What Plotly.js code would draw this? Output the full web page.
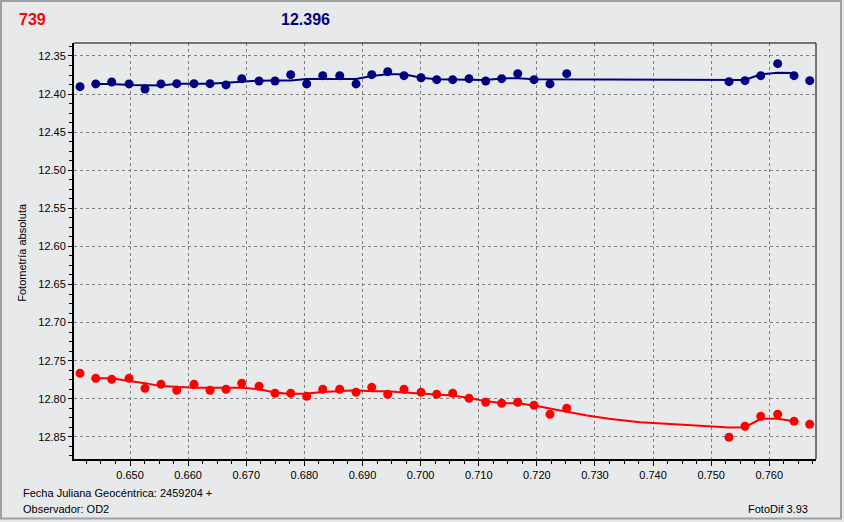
<!DOCTYPE html>
<html>
<head>
<meta charset="utf-8">
<script src="https://cdn.plot.ly/plotly-3.0.1.min.js"></script>
<style>html,body{margin:0;padding:0;background:#e8e9eb;}#chart{width:844px;height:522px;}</style>
</head>
<body>
<div id="chart"></div>
<script>
// Fecha Juliana Geocéntrica (2459204 +)
const jd = [0.6414,0.6441,0.64685,0.64983,0.65258,0.65533,0.65804,0.66101,0.66376,0.66652,0.66922,0.6722,0.67495,0.67765,0.6804,0.68316,0.68608,0.68889,0.69159,0.69434,0.69714,0.70007,0.70277,0.70552,0.70833,0.7112,0.71395,0.71671,0.71951,0.72226,0.72514,0.75306,0.75581,0.75852,0.76144,0.76425,0.76695];
// comparison star (blue) magnitudes
const blueMag = [12.3903,12.3867,12.3841,12.3867,12.3933,12.3867,12.3863,12.3863,12.3863,12.3880,12.3798,12.3828,12.3828,12.3745,12.3867,12.3758,12.3758,12.3867,12.3745,12.3706,12.3758,12.3785,12.3811,12.3811,12.3798,12.3828,12.3798,12.3732,12.3811,12.3867,12.3732,12.3837,12.3824,12.3758,12.3601,12.3758,12.3824];
// target (red) magnitudes
const redMag = [12.7666,12.7732,12.7745,12.7732,12.7863,12.7810,12.7889,12.7810,12.7889,12.7876,12.7797,12.7836,12.7928,12.7928,12.7968,12.7876,12.7876,12.7915,12.7850,12.7941,12.7876,12.7915,12.7941,12.7928,12.7994,12.8046,12.8060,12.8046,12.8086,12.8204,12.8125,12.8505,12.8361,12.8230,12.8204,12.8295,12.8335];
// smoothed trend lines
const blueTrendJd = [0.6441,0.64685,0.64983,0.65258,0.65533,0.65804,0.66101,0.66376,0.66652,0.66922,0.6722,0.67495,0.67765,0.6804,0.68316,0.68608,0.68889,0.69159,0.69434,0.69714,0.70007,0.70277,0.70552,0.70833,0.7112,0.71395,0.71671,0.71951,0.72226,0.72514,0.75306,0.75581,0.75852,0.76144,0.76425];
const blueTrend = [12.3867,12.3867,12.3880,12.3887,12.3889,12.3863,12.3863,12.3863,12.3850,12.3834,12.3824,12.3821,12.3821,12.3802,12.3802,12.3802,12.3802,12.3762,12.3740,12.3740,12.3785,12.3806,12.3806,12.3806,12.3815,12.3795,12.3792,12.3806,12.3806,12.3811,12.3815,12.3815,12.3740,12.3719,12.3723];
const redTrendJd = [0.6441,0.64685,0.64983,0.65258,0.65533,0.65804,0.66101,0.66376,0.66652,0.66922,0.6722,0.67495,0.67765,0.6804,0.68316,0.68608,0.68889,0.69159,0.69434,0.69714,0.70007,0.70277,0.70552,0.70833,0.7112,0.71395,0.71671,0.71951,0.72226,0.72514,0.72863,0.73241,0.73775,0.74446,0.75065,0.75306,0.75581,0.75852,0.76144,0.76425];
const redTrend = [12.7732,12.7732,12.7768,12.7795,12.7834,12.7844,12.7857,12.7857,12.7857,12.7857,12.7876,12.7919,12.7939,12.7932,12.7910,12.7899,12.7889,12.7902,12.7902,12.7919,12.7932,12.7939,12.7958,12.7991,12.8031,12.8059,12.8059,12.8090,12.8129,12.8168,12.8221,12.8264,12.8309,12.8339,12.8361,12.8378,12.8374,12.8264,12.8264,12.8295];

const headerLeft = "739";
const headerRight = "12.396";
const yTitle = "Fotometría absoluta";
const footer1 = "Fecha Juliana Geocéntrica: 2459204 +";
const footer2 = "Observador: OD2";
const footer3 = "FotoDif 3.93";

const BLUE = "#000080", RED = "#ff0000";
const F = "Liberation Sans, Arial, sans-serif";

const traces = [
  {x: blueTrendJd, y: blueTrend, mode: "lines", line: {color: BLUE, width: 2}, hoverinfo: "skip"},
  {x: jd, y: blueMag, mode: "markers", marker: {color: BLUE, size: 9, symbol: "circle"}, hoverinfo: "skip"},
  {x: redTrendJd, y: redTrend, mode: "lines", line: {color: RED, width: 2}, hoverinfo: "skip"},
  {x: jd, y: redMag, mode: "markers", marker: {color: RED, size: 9, symbol: "circle"}, hoverinfo: "skip"}
];

const L = 74, T = 43, W = 742, H = 416.5;
const px = v => (v - L) / W;
const py = v => (T + H - v) / H;

const layout = {
  width: 844, height: 522,
  margin: {l: L, r: 844 - L - W, t: T, b: 522 - T - H, pad: 0},
  paper_bgcolor: "#e8e9eb", plot_bgcolor: "#e8e9eb",
  showlegend: false,
  font: {family: F, size: 11, color: "#000"},
  xaxis: {
    range: [0.64036, 0.76803], tick0: 0.65, dtick: 0.01, tickformat: ".3f",
    showgrid: true, gridcolor: "#808080", griddash: "3px,3px", gridwidth: 1,
    zeroline: false, showline: true, linecolor: "#000", linewidth: 2,
    ticks: "outside", ticklen: 5, tickcolor: "#000", tickwidth: 1,
    tickfont: {family: F, size: 11, color: "#000"},
    minor: {dtick: 0.0025, tick0: 0.65, ticks: "outside", ticklen: 3, tickcolor: "#000", showgrid: false}
  },
  yaxis: {
    range: [12.8791, 12.33295], tick0: 12.35, dtick: 0.05, tickformat: ".2f",
    showgrid: true, gridcolor: "#808080", griddash: "3px,3px", gridwidth: 1,
    zeroline: false, showline: true, linecolor: "#000", linewidth: 2,
    ticks: "outside", ticklen: 4, tickcolor: "#000", tickwidth: 1,
    tickfont: {family: F, size: 11, color: "#000"},
    minor: {dtick: 0.0125, tick0: 12.35, ticks: "outside", ticklen: 3, tickcolor: "#000", showgrid: false}
  },
  shapes: [
    {type: "line", xref: "paper", yref: "paper", x0: 0, x1: 1, y0: 1, y1: 1, line: {color: "#000", width: 1}},
    {type: "line", xref: "paper", yref: "paper", x0: 1, x1: 1, y0: 0, y1: 1, line: {color: "#000", width: 1}},
    {type: "rect", xref: "paper", yref: "paper", x0: px(1), x1: px(841), y0: py(519), y1: py(1), line: {color: "#a0a0a0", width: 2}, layer: "below"}
  ],
  annotations: [
    {text: "<b>" + headerLeft + "</b>", xref: "paper", yref: "paper", x: px(17), y: py(19), xanchor: "left", yanchor: "middle", showarrow: false, font: {family: F, size: 16, color: RED}},
    {text: "<b>" + headerRight + "</b>", xref: "paper", yref: "paper", x: px(279), y: py(19), xanchor: "left", yanchor: "middle", showarrow: false, font: {family: F, size: 16, color: BLUE}},
    {text: yTitle, xref: "paper", yref: "paper", x: px(22.5), y: py(252.5), xanchor: "center", yanchor: "middle", textangle: -90, showarrow: false, font: {family: F, size: 11, color: "#000"}},
    {text: footer1, xref: "paper", yref: "paper", x: px(21), y: py(494), xanchor: "left", yanchor: "middle", showarrow: false, font: {family: F, size: 11, color: "#000"}},
    {text: footer2, xref: "paper", yref: "paper", x: px(21), y: py(510), xanchor: "left", yanchor: "middle", showarrow: false, font: {family: F, size: 11, color: "#000"}},
    {text: footer3, xref: "paper", yref: "paper", x: px(810), y: py(510), xanchor: "right", yanchor: "middle", showarrow: false, font: {family: F, size: 11, color: "#000"}}
  ]
};

Plotly.newPlot("chart", traces, layout, {staticPlot: true, displayModeBar: false});
</script>
</body>
</html>
